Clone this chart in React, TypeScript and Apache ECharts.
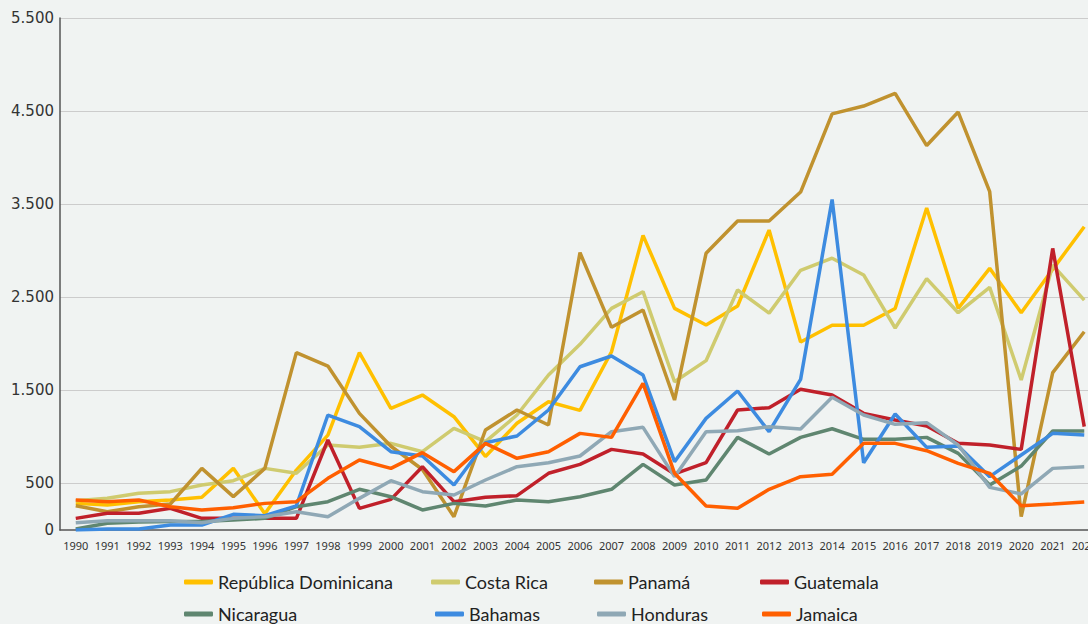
import React, { useEffect, useRef } from 'react';
import * as echarts from 'echarts';

const years = [
  '1990', '1991', '1992', '1993', '1994', '1995', '1996', '1997', '1998', '1999',
  '2000', '2001', '2002', '2003', '2004', '2005', '2006', '2007', '2008', '2009',
  '2010', '2011', '2012', '2013', '2014', '2015', '2016', '2017', '2018', '2019',
  '2020', '2021', '2022',
];

const yLabelValues = [0, 500, 1500, 2500, 3500, 4500, 5500];

const republicaDominicana = [286, 268, 304, 322, 351, 662, 175, 644, 1020, 1905, 1307, 1450, 1217, 790, 1146, 1378, 1285, 1915, 3165, 2381, 2202, 2406, 3222, 2019, 2200, 2200, 2380, 3460, 2381, 2811, 2334, 2800, 3258];
const costaRica = [315, 340, 394, 412, 483, 530, 662, 609, 913, 888, 931, 841, 1092, 949, 1235, 1665, 1995, 2381, 2560, 1593, 1819, 2578, 2330, 2790, 2920, 2740, 2170, 2700, 2334, 2607, 1611, 2846, 2470];
const panama = [261, 197, 250, 279, 662, 358, 662, 1905, 1761, 1253, 900, 650, 143, 1074, 1289, 1128, 2979, 2177, 2363, 1396, 2972, 3320, 3320, 3630, 4470, 4554, 4690, 4130, 4490, 3634, 143, 1690, 2130];
const guatemala = [125, 179, 179, 233, 125, 125, 125, 125, 967, 233, 329, 680, 304, 351, 369, 609, 705, 866, 816, 602, 723, 1289, 1314, 1511, 1450, 1253, 1181, 1117, 931, 913, 866, 3025, 1110];
const nicaragua = [11, 72, 85, 90, 90, 107, 125, 250, 304, 437, 358, 215, 286, 258, 322, 304, 358, 437, 705, 483, 537, 995, 816, 995, 1088, 974, 974, 995, 823, 483, 687, 1063, 1063];
const bahamas = [0, 11, 11, 54, 54, 168, 154, 260, 1235, 1110, 841, 795, 483, 938, 1010, 1289, 1754, 1869, 1665, 734, 1199, 1493, 1056, 1618, 3550, 723, 1246, 888, 902, 573, 806, 1038, 1020];
const honduras = [79, 100, 100, 100, 79, 125, 143, 197, 143, 340, 530, 412, 376, 537, 680, 723, 795, 1056, 1103, 573, 1056, 1067, 1110, 1085, 1425, 1235, 1135, 1153, 913, 458, 387, 662, 680];
const jamaica = [322, 304, 322, 250, 215, 240, 286, 304, 555, 752, 662, 831, 627, 931, 770, 841, 1038, 995, 1575, 609, 258, 233, 437, 573, 598, 931, 931, 852, 716, 609, 261, 279, 301];

const seriesNames = ['República Dominicana', 'Costa Rica', 'Panamá', 'Guatemala', 'Nicaragua', 'Bahamas', 'Honduras', 'Jamaica'];
const seriesData = [republicaDominicana, costaRica, panama, guatemala, nicaragua, bahamas, honduras, jamaica];
const seriesColors = ['#FFC000', '#CFCB6F', '#C0922F', '#C0202A', '#5F8670', '#3D8BE0', '#8FA8B5', '#FF5F00'];

// legend layout (left, top)
const legendPos: [number, number][] = [
  [184, 572], [431, 572], [594, 572], [760, 572],
  [184, 604], [435, 604], [597, 604], [762, 604],
];

function fmt(v: number): string {
  return String(v).replace(/\B(?=(\d{3})+(?!\d))/g, '.');
}

export default function App() {
  const ref = useRef<HTMLDivElement>(null);
  useEffect(() => {
    if (!ref.current) return;
    const chart = echarts.init(ref.current, undefined, { renderer: 'svg' });
    chart.setOption({
      animation: false,
      backgroundColor: '#f0f3f2',
      grid: { left: 60, top: 18, bottom: 94, right: 0, containLabel: false },
      legend: seriesNames.map((n, i) => ({
        data: [n],
        left: legendPos[i][0],
        top: legendPos[i][1],
        padding: 0,
        itemWidth: 29,
        itemHeight: 5,
        icon: 'roundRect',
        textStyle: { fontFamily: 'Lato', fontSize: 18, color: '#222', lineHeight: 20 },
        selectedMode: false,
      })),
      xAxis: {
        type: 'category',
        data: years,
        boundaryGap: true,
        axisLine: { show: true, lineStyle: { color: '#555', width: 1.5 } },
        axisTick: { show: false },
        axisLabel: { interval: 0, fontFamily: 'Noto Sans', fontSize: 11, color: '#333', margin: 10 },
        splitLine: { show: false },
      },
      yAxis: {
        type: 'value',
        min: 0,
        max: 5500,
        interval: 500,
        axisLine: { show: true, lineStyle: { color: '#555', width: 1.5 } },
        axisTick: { show: false },
        axisLabel: {
          fontFamily: 'DejaVu Sans',
          fontSize: 15,
          color: '#333',
          margin: 6,
          formatter: (v: number) => (yLabelValues.includes(v) ? fmt(v) : ''),
        },
        splitLine: { show: true, lineStyle: { color: ['transparent', '#cccccc'], width: 1 } },
      },
      series: seriesNames.map((n, i) => ({
        name: n,
        type: 'line',
        data: seriesData[i],
        symbol: 'none',
        color: seriesColors[i],
        lineStyle: { width: 3.5, color: seriesColors[i] },
      })),
    });
    return () => chart.dispose();
  }, []);
  return <div ref={ref} style={{ position: 'fixed', left: 0, top: 0, width: 1100, height: 624 }} />;
}
